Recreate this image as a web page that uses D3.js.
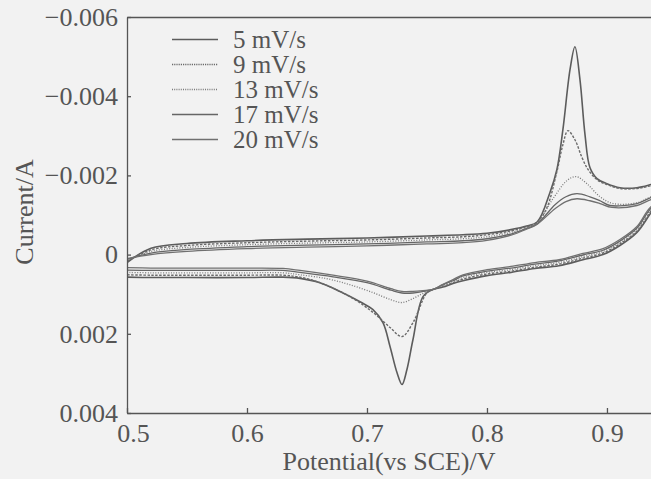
<!doctype html>
<html lang="en">
<head>
<meta charset="utf-8">
<title>Cyclic voltammograms</title>
<script src="https://d3js.org/d3.v7.min.js"></script>
<style>
  body { margin: 0; background: #f2f2f2; }
  svg { display: block; }
  text { font-family: "Liberation Serif", "Times New Roman", serif; fill: #555; }
</style>
</head>
<body>
<svg width="651" height="479"></svg>
<script>
// legend entries, in the order they are printed
var rates = ["5 mV/s", "9 mV/s", "13 mV/s", "17 mV/s", "20 mV/s"];

var potentialTicks = [0.5, 0.6, 0.7, 0.8, 0.9];
var potentialLabels = ["0.5", "0.6", "0.7", "0.8", "0.9"];
var currentTicks = [-0.006, -0.004, -0.002, 0, 0.002, 0.004];
var currentLabels = ["\u22120.006", "\u22120.004", "\u22120.002", "0", "0.002", "0.004"];

// each loop: forward sweep out to the vertex (past the right edge), then back to 0.5 V
var potential5 = [0.50, 0.52, 0.55, 0.60, 0.65, 0.70, 0.75, 0.78, 0.80, 0.82, 0.833, 0.842, 0.8525, 0.8583, 0.8633, 0.8692, 0.8733, 0.8775, 0.8817, 0.8858, 0.8917, 0.90, 0.9108, 0.925, 0.9367, 0.955, 0.965,
  0.955, 0.9367, 0.925, 0.9108, 0.8967, 0.88, 0.86, 0.84, 0.82, 0.80, 0.78, 0.7717, 0.7633, 0.755, 0.7467, 0.7383, 0.7333, 0.7292, 0.725, 0.7192, 0.7133, 0.705, 0.6942, 0.6775, 0.6608, 0.6442, 0.63, 0.60, 0.55, 0.52, 0.50];
var current5 = [0.00020, -0.00016, -0.00028, -0.00035, -0.00039, -0.00042, -0.00047, -0.00050, -0.00054, -0.00063, -0.00072, -0.00083, -0.00157, -0.00215, -0.00316, -0.00467, -0.00525, -0.00442, -0.00303, -0.00220, -0.00192, -0.00179, -0.00169, -0.00169, -0.00177, -0.00194, -0.00214,
  -0.00186, -0.00106, -0.00056, -0.00023, 0.00000, 0.00013, 0.00028, 0.00035, 0.00045, 0.00053, 0.00066, 0.00073, 0.00082, 0.00088, 0.00106, 0.00215, 0.00290, 0.00328, 0.00298, 0.00232, 0.00172, 0.00139, 0.00119, 0.00093, 0.00071, 0.00060, 0.00057, 0.00058, 0.00058, 0.00058, 0.00057];

var potential9 = [0.50, 0.52, 0.55, 0.60, 0.65, 0.70, 0.75, 0.78, 0.80, 0.82, 0.833, 0.842, 0.85, 0.8583, 0.8633, 0.8675, 0.8733, 0.8792, 0.8842, 0.8917, 0.90, 0.9108, 0.925, 0.9367, 0.955, 0.965,
  0.955, 0.9367, 0.925, 0.9108, 0.8967, 0.88, 0.86, 0.84, 0.82, 0.80, 0.78, 0.7717, 0.7633, 0.755, 0.75, 0.7383, 0.7292, 0.7192, 0.705, 0.6858, 0.6608, 0.6442, 0.63, 0.60, 0.55, 0.52, 0.50];
var current9 = [0.00017, -0.00012, -0.00023, -0.00030, -0.00034, -0.00037, -0.00042, -0.00045, -0.00050, -0.00060, -0.00070, -0.00082, -0.00119, -0.00210, -0.00278, -0.00313, -0.00290, -0.00245, -0.00215, -0.00189, -0.00177, -0.00167, -0.00167, -0.00174, -0.00189, -0.00209,
  -0.00181, -0.00110, -0.00059, -0.00027, -0.00004, 0.00009, 0.00024, 0.00032, 0.00042, 0.00049, 0.00062, 0.00071, 0.00080, 0.00088, 0.00096, 0.00172, 0.00207, 0.00184, 0.00146, 0.00106, 0.00071, 0.00057, 0.00052, 0.00052, 0.00052, 0.00052, 0.00051];

var potential13 = [0.50, 0.52, 0.55, 0.60, 0.65, 0.70, 0.75, 0.78, 0.80, 0.82, 0.833, 0.842, 0.855, 0.8667, 0.8742, 0.8833, 0.8942, 0.905, 0.925, 0.9367, 0.955, 0.965,
  0.955, 0.9367, 0.925, 0.9108, 0.8967, 0.88, 0.86, 0.84, 0.82, 0.80, 0.78, 0.7717, 0.7633, 0.755, 0.7467, 0.7383, 0.7292, 0.72, 0.705, 0.6858, 0.6667, 0.6442, 0.63, 0.60, 0.55, 0.52, 0.50];
var current13 = [0.00015, -0.00008, -0.00018, -0.00025, -0.00029, -0.00032, -0.00037, -0.00040, -0.00045, -0.00056, -0.00068, -0.00080, -0.00141, -0.00187, -0.00197, -0.00179, -0.00146, -0.00129, -0.00131, -0.00146, -0.00164, -0.00184,
  -0.00156, -0.00114, -0.00063, -0.00030, -0.00008, 0.00005, 0.00020, 0.00028, 0.00038, 0.00045, 0.00058, 0.00068, 0.00078, 0.00088, 0.00098, 0.00111, 0.00121, 0.00114, 0.00096, 0.00076, 0.00061, 0.00051, 0.00046, 0.00046, 0.00046, 0.00046, 0.00045];

var potential17 = [0.50, 0.52, 0.55, 0.60, 0.65, 0.70, 0.75, 0.78, 0.80, 0.82, 0.833, 0.842, 0.8567, 0.8658, 0.875, 0.8858, 0.8942, 0.9025, 0.925, 0.9367, 0.955, 0.965,
  0.955, 0.9367, 0.925, 0.9108, 0.8967, 0.88, 0.86, 0.84, 0.82, 0.80, 0.78, 0.7717, 0.7633, 0.755, 0.7467, 0.7383, 0.7292, 0.72, 0.70, 0.6717, 0.6442, 0.63, 0.60, 0.55, 0.52, 0.50];
var current17 = [0.00012, -0.00004, -0.00013, -0.00020, -0.00024, -0.00027, -0.00032, -0.00035, -0.00040, -0.00052, -0.00066, -0.00078, -0.00126, -0.00146, -0.00154, -0.00146, -0.00136, -0.00124, -0.00129, -0.00144, -0.00162, -0.00182,
  -0.00154, -0.00117, -0.00067, -0.00034, -0.00011, 0.00001, 0.00016, 0.00024, 0.00034, 0.00042, 0.00054, 0.00066, 0.00076, 0.00088, 0.00093, 0.00097, 0.00097, 0.00090, 0.00071, 0.00056, 0.00045, 0.00040, 0.00040, 0.00040, 0.00040, 0.00039];

var potential20 = [0.50, 0.52, 0.55, 0.60, 0.65, 0.70, 0.75, 0.78, 0.80, 0.82, 0.833, 0.842, 0.8567, 0.8658, 0.875, 0.8858, 0.8942, 0.9042, 0.925, 0.9367, 0.955, 0.965,
  0.955, 0.9367, 0.925, 0.9108, 0.8967, 0.88, 0.86, 0.84, 0.82, 0.80, 0.78, 0.7717, 0.7633, 0.755, 0.7467, 0.7383, 0.7292, 0.72, 0.70, 0.6717, 0.6442, 0.63, 0.60, 0.55, 0.52, 0.50];
var current20 = [0.00010, 0.00000, -0.00008, -0.00015, -0.00019, -0.00022, -0.00027, -0.00030, -0.00036, -0.00049, -0.00064, -0.00077, -0.00116, -0.00134, -0.00141, -0.00136, -0.00129, -0.00119, -0.00124, -0.00139, -0.00157, -0.00177,
  -0.00149, -0.00121, -0.00071, -0.00038, -0.00015, -0.00003, 0.00013, 0.00020, 0.00030, 0.00038, 0.00051, 0.00063, 0.00075, 0.00088, 0.00091, 0.00093, 0.00093, 0.00086, 0.00067, 0.00052, 0.00040, 0.00035, 0.00034, 0.00034, 0.00034, 0.00033];

var loops = [
  d3.zip(potential5, current5),
  d3.zip(potential9, current9),
  d3.zip(potential13, current13),
  d3.zip(potential17, current17),
  d3.zip(potential20, current20)
];

// line looks for each rate: plot stroke, legend stroke
var strokes = ["#5c5c5c", "#6a6a6a", "#7a7a7a", "#666", "#707070"];
var widths = [1.6, 1.4, 1.3, 1.3, 1.3];
var dashes = [null, "2.5,1.5", "1,1.6", null, null];
var legendDashes = [null, "1.2,1", "1,1.2", null, null];

var svg = d3.select("svg");
var plotLeft = 127, plotTop = 17, plotBottom = 413, plotRight = 651;

// the scan is cut at the right edge, so the x range runs to the border
var x = d3.scaleLinear().domain([0.5, 0.9367]).range([plotLeft, plotRight]);
var y = d3.scaleLinear().domain([-0.006, 0.004]).range([plotTop, plotBottom]);

var line = d3.line()
  .x(function(d) { return x(d[0]); })
  .y(function(d) { return y(d[1]); })
  .curve(d3.curveCatmullRom.alpha(0.5));

svg.append("clipPath").attr("id", "plot")
  .append("rect").attr("x", plotLeft).attr("y", plotTop)
  .attr("width", plotRight - plotLeft).attr("height", plotBottom - plotTop);

svg.append("g").attr("clip-path", "url(#plot)")
  .selectAll("path")
  .data(loops)
  .enter().append("path")
  .attr("d", line)
  .attr("fill", "none")
  .attr("stroke", function(d, i) { return strokes[i]; })
  .attr("stroke-width", function(d, i) { return widths[i]; })
  .attr("stroke-dasharray", function(d, i) { return dashes[i]; })
  .attr("stroke-linejoin", "round");

// axes: ticks point inwards
var xAxis = svg.append("g")
  .attr("transform", "translate(0," + plotBottom + ")")
  .call(d3.axisBottom(x).tickValues(potentialTicks)
    .tickFormat(function(d, i) { return potentialLabels[i]; })
    .tickSizeInner(-5).tickSizeOuter(0).tickPadding(11));

var yAxis = svg.append("g")
  .attr("transform", "translate(" + plotLeft + ",0)")
  .call(d3.axisLeft(y).tickValues(currentTicks)
    .tickFormat(function(d, i) { return currentLabels[i]; })
    .tickSizeInner(-4).tickSizeOuter(0).tickPadding(9));

var frameTop = svg.append("g")
  .attr("transform", "translate(0," + plotTop + ")")
  .call(d3.axisTop(x).tickValues([]).tickSizeOuter(0));

[xAxis, yAxis, frameTop].forEach(function(g) {
  g.attr("color", "#555").attr("font-size", 26).attr("font-family", null);
  g.selectAll("path, line").attr("stroke-width", 1.3);
});

// the first x label sits a little right of its tick in the scan
xAxis.selectAll(".tick text").filter(function(d) { return d === 0.5; }).attr("dx", 6);

svg.append("text")
  .attr("x", (plotLeft + plotRight) / 2)
  .attr("y", 470)
  .attr("text-anchor", "middle")
  .attr("font-size", 26)
  .text("Potential(vs SCE)/V");

svg.append("text")
  .attr("transform", "translate(33,212) rotate(-90)")
  .attr("text-anchor", "middle")
  .attr("font-size", 26)
  .text("Current/A");

// legend
var legend = svg.append("g").selectAll("g")
  .data(rates)
  .enter().append("g")
  .attr("transform", function(d, i) { return "translate(172," + (39.5 + i * 25) + ")"; });

legend.append("line")
  .attr("x1", 0).attr("x2", 46)
  .attr("stroke", function(d, i) { return strokes[i]; })
  .attr("stroke-width", 1.3)
  .attr("stroke-dasharray", function(d, i) { return legendDashes[i]; });

legend.append("text")
  .attr("x", 61)
  .attr("dy", "0.33em")
  .attr("font-size", 25)
  .text(function(d) { return d; });
</script>
</body>
</html>
